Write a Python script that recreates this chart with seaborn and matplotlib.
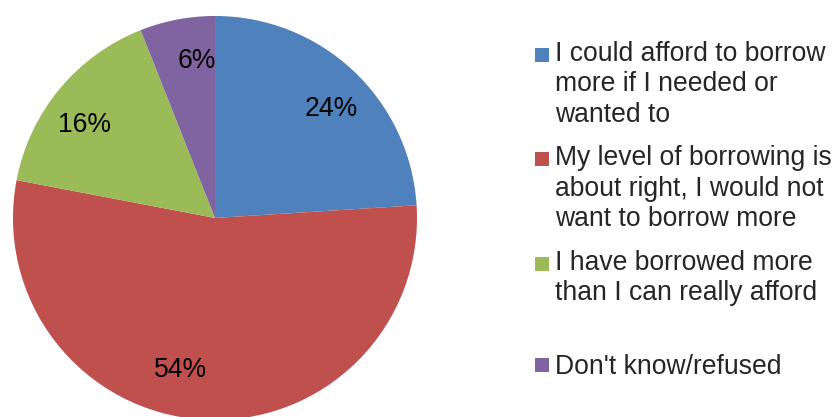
import matplotlib
matplotlib.use("Agg")
import matplotlib.pyplot as plt
from matplotlib.patches import Rectangle, Wedge
from matplotlib.legend_handler import HandlerPatch
import seaborn as sns

# survey answers and their shares (%)
categories = [
    "I could afford to borrow\nmore if I needed or\nwanted to",
    "My level of borrowing is\nabout right, I would not\nwant to borrow more",
    "I have borrowed more\nthan I can really afford",
    "Don't know/refused",
]
shares = [24, 54, 16, 6]
colors = ["#4F81BD", "#C0504D", "#9BBB59", "#8064A2"]

FS = 19.1        # font size, points
LINE_PT = 21.6   # line pitch of the legend text, points
SQ = 10.0        # legend square size, points
# small shifts of the percent labels (pie radius units), Excel places them a bit differently
label_nudge = [(0.035, -0.035), (-0.12, 0.035), (-0.035, -0.045), (0.06, 0.0)]

# pad the labels to three lines so the entries sit on an even pitch (not the last one)
labels = [c + "\n" * (3 - len(c.split("\n"))) for c in categories[:-1]] + categories[-1:]
n_lines = [len(l.split("\n")) for l in labels]

sns.set_style("white")
plt.rcParams["font.family"] = ["Liberation Sans", "DejaVu Sans"]

fig = plt.figure(figsize=(8.33, 4.17), dpi=100)
ax = fig.add_axes([0.0156, -0.0072, 0.485, 0.969])

wedges, texts, autotexts = ax.pie(
    shares,
    colors=sns.color_palette(colors),
    startangle=90,
    counterclock=False,
    autopct="%.0f%%",
    pctdistance=0.79,
    wedgeprops=dict(linewidth=0),
    textprops=dict(fontsize=FS, color="black"),
)
for t, (dx, dy) in zip(autotexts, label_nudge):
    x, y = t.get_position()
    t.set_position((x + dx, y + dy))
ax.set_xlim(-1, 1)
ax.set_ylim(-1, 1)

shift = {id(w): (n - 1) / 2 * LINE_PT for w, n in zip(wedges, n_lines)}


def square(legend, orig_handle, xdescent, ydescent, width, height, fontsize):
    # put the square next to the first text line instead of the middle one
    y0 = -ydescent + height / 2 - SQ / 2 + shift[id(orig_handle)]
    return Rectangle((-xdescent + width - SQ, y0), SQ, SQ)


leg = fig.legend(
    wedges, labels,
    loc="upper left", bbox_to_anchor=(535 / 833, 0.902),
    frameon=False, fontsize=FS,
    handlelength=SQ / FS, handletextpad=0.22,
    borderpad=0, borderaxespad=0, labelspacing=0.665,
    handler_map={Wedge: HandlerPatch(patch_func=square)},
)
for t in leg.get_texts():
    t.set_linespacing(1.22)

fig.savefig("out.png", dpi=100)
